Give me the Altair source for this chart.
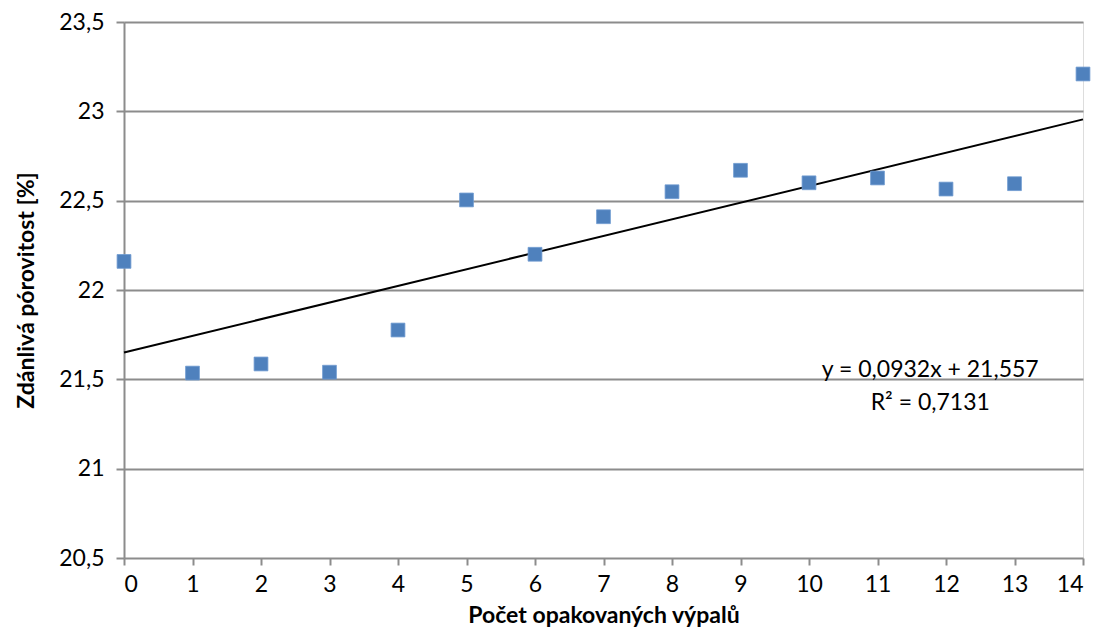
import altair as alt
import pandas as pd

# Data
x_vals = list(range(15))
y_vals = [22.16, 21.535, 21.586, 21.54, 21.776, 22.504, 22.20, 22.41, 22.55, 22.67, 22.60, 22.627, 22.565, 22.595, 23.209]

# Trendline (Excel, x counted from 1): y = 0.0932*k + 21.557
slope = 0.0932
intercept = 21.557
trend_x = [0, 14]
trend_y = [intercept + slope * (x + 1) for x in trend_x]

eq_labels = ["y = 0,0932x + 21,557", "R² = 0,7131"]
eq_x = [11.77, 11.77]
eq_y = [21.552, 21.367]

pts = pd.DataFrame({"x": x_vals, "y": y_vals})
trend = pd.DataFrame({"x": trend_x, "y": trend_y})
eq = pd.DataFrame({"t": eq_labels, "x": eq_x, "y": eq_y})

FONT = "Lato"
GRID = "#8c8c8c"

xscale = alt.Scale(domain=[0, 14], nice=False, zero=False)
yscale = alt.Scale(domain=[20.5, 23.5], nice=False, zero=False)

xaxis = alt.Axis(
    title="Počet opakovaných výpalů", values=list(range(15)), format="d",
    grid=False, domain=False, tickColor=GRID, tickWidth=2, tickSize=7,
    labelFont=FONT, labelFontSize=23, labelColor="#000", labelPadding=8,
    titleFont=FONT, titleFontSize=23, titleFontWeight="bold", titleColor="#000", titlePadding=8,
)
yaxis = alt.Axis(
    title="Zdánlivá pórovitost [%]", values=[20.5, 21, 21.5, 22, 22.5, 23, 23.5],
    format=",.1~f", grid=True, gridColor=GRID, gridWidth=2, domain=True,
    domainColor=GRID, domainWidth=2, tickColor=GRID, tickWidth=2, tickSize=8,
    labelFont=FONT, labelFontSize=23, labelColor="#000", labelPadding=12,
    titleFont=FONT, titleFontSize=23, titleFontWeight="bold", titleColor="#000", titlePadding=20,
)

points = alt.Chart(pts).mark_square(size=190, color="#4F81BD", opacity=1, stroke="#6f9bd0", strokeWidth=0.8).encode(
    x=alt.X("x:Q", scale=xscale, axis=xaxis),
    y=alt.Y("y:Q", scale=yscale, axis=yaxis),
)

line = alt.Chart(trend).mark_line(color="#000000", strokeWidth=2).encode(
    x=alt.X("x:Q", scale=xscale),
    y=alt.Y("y:Q", scale=yscale),
)

text = alt.Chart(eq).mark_text(font=FONT, fontSize=23, color="#000", align="center", baseline="middle").encode(
    x=alt.X("x:Q", scale=xscale),
    y=alt.Y("y:Q", scale=yscale),
    text="t:N",
)

chart = alt.layer(line, points, text).properties(
    width=959, height=536,
    autosize=alt.AutoSizeParams(type="none"),
    padding={"left": 116, "top": 14, "right": 10, "bottom": 76},
).configure_view(stroke=None).configure(
    locale={"number": {"decimal": ",", "thousands": " ", "grouping": [3], "currency": ["", " Kč"]}}
)

chart.save("out.html", embed_options={"renderer": "svg", "actions": False})
